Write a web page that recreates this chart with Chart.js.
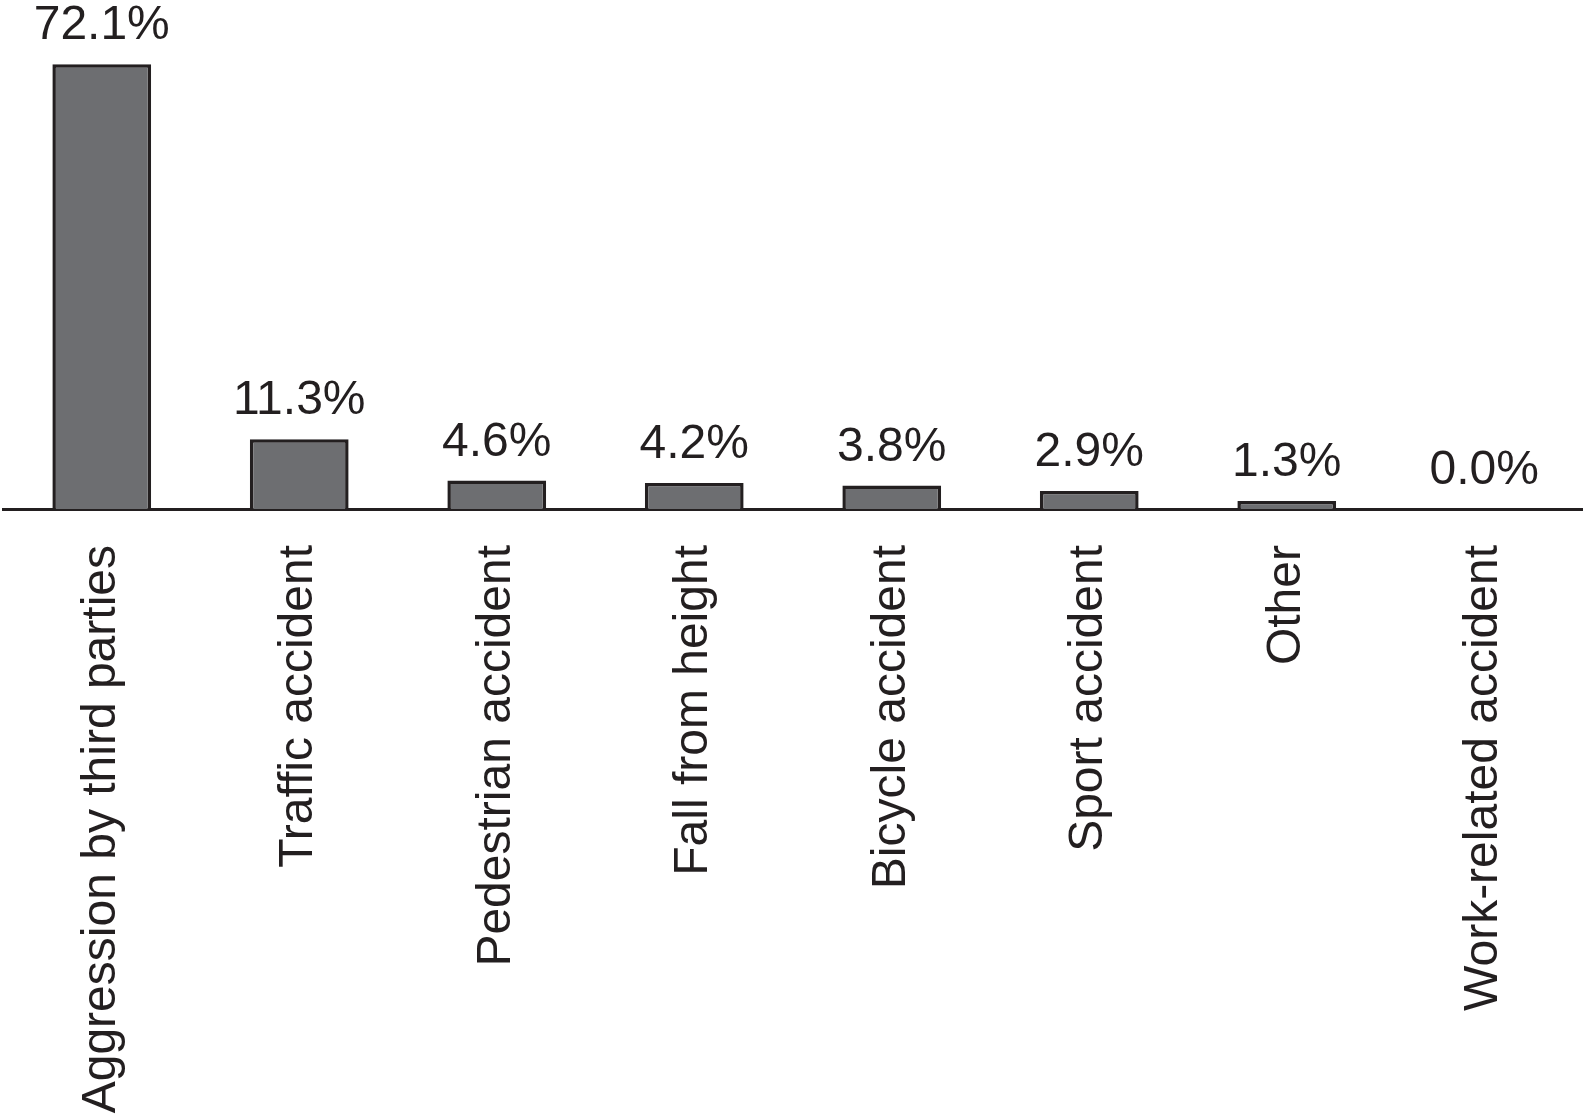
<!DOCTYPE html>
<html>
<head>
<meta charset="utf-8">
<script src="https://cdn.jsdelivr.net/npm/chart.js@4/dist/chart.umd.min.js"></script>
<style>
  html, body { margin: 0; padding: 0; background: #fff; }
  #wrap { width: 1583px; height: 1118px; position: relative; }
</style>
</head>
<body>
<div id="wrap"><canvas id="chart"></canvas></div>
<script>
// categories and values (percent)
const categories = [
  'Aggression by third parties',
  'Traffic accident',
  'Pedestrian accident',
  'Fall from height',
  'Bicycle accident',
  'Sport accident',
  'Other',
  'Work-related accident'
];
const percentages = [72.1, 11.3, 4.6, 4.2, 3.8, 2.9, 1.3, 0.0];

const FONT = '"Liberation Sans", Arial, Helvetica, sans-serif';
const INK = '#231f20';

// value labels above the bars
const valueLabels = {
  id: 'valueLabels',
  afterDatasetsDraw(chart) {
    const ctx = chart.ctx;
    const meta = chart.getDatasetMeta(0);
    ctx.save();
    ctx.fillStyle = INK;
    ctx.font = '48px ' + FONT;
    ctx.textAlign = 'center';
    ctx.textBaseline = 'alphabetic';
    meta.data.forEach((bar, i) => {
      ctx.fillText(percentages[i].toFixed(1) + '%', bar.x, bar.y - 25);
    });
    ctx.restore();
  }
};

const ctx = document.getElementById('chart').getContext('2d');
new Chart(ctx, {
  type: 'bar',
  data: {
    labels: categories,
    datasets: [{
      data: percentages,
      backgroundColor: '#6d6e71',
      borderColor: INK,
      borderWidth: 3.5,
      barPercentage: 0.5,
      categoryPercentage: 1.0
    }]
  },
  options: {
    responsive: true,
    maintainAspectRatio: false,
    animation: false,
    layout: { padding: { left: 3, right: 0, top: 0, bottom: 0 } },
    plugins: {
      legend: { display: false },
      tooltip: { enabled: false }
    },
    scales: {
      x: {
        grid: { display: false, drawTicks: false },
        border: { display: true, color: INK, width: 3 },
        ticks: {
          color: INK,
          font: { family: FONT, size: 48 },
          minRotation: 90,
          maxRotation: 90,
          autoSkip: false,
          padding: 36
        },
        afterFit(scale) { scale.height = 609; }
      },
      y: {
        display: false,
        min: 0,
        max: 82.5
      }
    }
  },
  plugins: [valueLabels]
});
</script>
</body>
</html>
